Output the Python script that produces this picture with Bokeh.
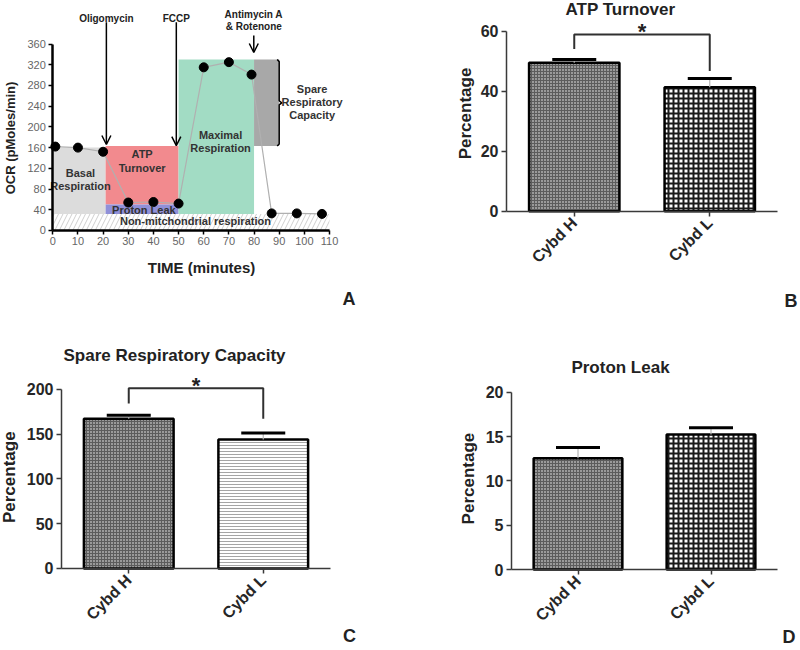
import math
from bokeh.plotting import figure
from bokeh.layouts import column, row
from bokeh.models import (Range1d, FixedTicker, Label, Arrow, OpenHead, Whisker,
                          TeeHead, ColumnDataSource)
from bokeh.core.properties import value
from bokeh.embed import file_html
from bokeh.resources import INLINE

FONT = "Liberation Sans"

# ---------------- Panel A data ----------------
time_min = [1, 10, 20, 30, 40, 50, 60, 70, 79, 87, 97, 107]
ocr = [162, 160, 152, 54, 55, 52, 315, 325, 301, 33, 33, 32]
region_names = ["Basal\nRespiration", "ATP\nTurnover", "Proton Leak",
                "Maximal\nRespiration", "Spare\nRespiratory\nCapacity"]
region_start = [0, 21, 21, 50, 80]
region_end = [21, 50, 50, 80, 90]
region_low = [32, 50, 32, 32, 163]
region_high = [160, 163, 50, 330, 330]
nonmito_level = 32
nonmito_name = "Non-mitchondrial respiration"
injections = ["Oligomycin", "FCCP", "Antimycin A\n& Rotenone"]
injection_time = [21.3, 49.1, 79.9]
a_y_ticks = [0, 40, 80, 120, 160, 200, 240, 280, 320, 360]
a_x_ticks = [0, 10, 20, 30, 40, 50, 60, 70, 80, 90, 100, 110]

# ---------------- Bar panels data ----------------
groups = ["Cybd H", "Cybd L"]
atp_pct = [49.5, 41.3]
atp_sem = [1.1, 2.9]
atp_ticks = [0, 20, 40, 60]
atp_sig = [58.9, 54.1, 46.7]      # bracket top, left end, right end
spare_pct = [167, 144]
spare_sem = [4, 7]
spare_ticks = [0, 50, 100, 150, 200]
spare_sig = [201, 184, 167]
leak_pct = [12.55, 15.23]
leak_sem = [1.2, 0.75]
leak_ticks = [0, 5, 10, 15, 20]

# ---------------- styles ----------------
region_colors = ["#dcdcdc", "#f28a8e", "#9090d8", "#a2dcc4", "#a8a8a8"]
region_label_x = [11, 35.5, 36.2, 66.7, 103.1]
region_label_y = [98, 134, 40, 171.5, 247.6]
BAR_STYLES = {
    "fine": dict(fill_color="#9a9a9a", hatch_pattern="cross", hatch_scale=3,
                 hatch_weight=1, hatch_color="#5c5c5c"),
    "checker": dict(fill_color="white", hatch_pattern="cross", hatch_scale=5,
                    hatch_weight=2, hatch_color="#1a1a1a"),
    "lines": dict(fill_color="white", hatch_pattern="horizontal_line", hatch_scale=3,
                  hatch_weight=1, hatch_color="#a5a5a5"),
}


def base_fig(w, h, xr, yr):
    p = figure(width=w, height=h, x_range=xr, y_range=yr,
               min_border_left=0, min_border_right=0, min_border_top=0, min_border_bottom=0,
               output_backend="svg", toolbar_location=None)
    p.xgrid.visible = False
    p.ygrid.visible = False
    p.outline_line_color = None
    p.xaxis.fixed_location = 0
    p.yaxis.fixed_location = 0
    return p


def style_axis(ax, ticks, bounds, size, color, bold, lw, lc, tick_out):
    ax.ticker = FixedTicker(ticks=ticks)
    ax.bounds = bounds
    ax.axis_line_width = lw
    ax.axis_line_color = lc
    ax.major_tick_line_color = lc
    ax.major_tick_line_width = 1.5
    ax.major_tick_out = tick_out
    ax.major_tick_in = 0
    ax.minor_tick_out = 0
    ax.minor_tick_in = 0
    ax.major_label_text_font = FONT
    ax.major_label_text_font_size = size
    ax.major_label_text_font_style = "bold" if bold else "normal"
    ax.major_label_text_color = color
    ax.major_label_standoff = 3


def label(p, x, y, text, size, angle=0, align="center", baseline="middle", color="#222222"):
    p.add_layout(Label(x=x, y=y, text=text, angle=angle, text_font=FONT,
                       text_font_size=size, text_font_style="bold", text_color=color,
                       text_align=align, text_baseline=baseline))


# ---------------- Panel A ----------------
pA = base_fig(400, 320, Range1d(-20.79, 138.22), Range1d(-173.75, 444.0))
pA.quad(left=region_start, right=region_end, bottom=region_low, top=region_high,
        fill_color=region_colors, line_color=None)
pA.quad(left=[a_x_ticks[0]], right=[a_x_ticks[-1]], bottom=[0], top=[nonmito_level],
        fill_color="white", hatch_pattern="right_diagonal_line", hatch_color="#cfcfcf",
        hatch_scale=9, hatch_weight=1, line_color=None)
pA.line(time_min, ocr, line_color="#b0b0b0", line_width=1.2)
pA.scatter(time_min, ocr, size=9, fill_color="black", line_color="black")
pA.text(x=region_label_x, y=region_label_y, text=region_names, text_font=value(FONT),
        text_font_size="11px", text_font_style="bold", text_color="#333333",
        text_align="center", text_baseline="middle", text_line_height=1.1)
pA.text(x=[(a_x_ticks[0] + a_x_ticks[-1]) / 2 + 1.7], y=[nonmito_level / 2 + 1.4],
        text=[nonmito_name], text_font=value(FONT), text_font_size="11px",
        text_font_style="bold", text_color="#333333", text_align="center",
        text_baseline="middle")
# brace for spare capacity
bx = region_end[4]
btop, bbot = region_high[4], region_low[4]
bmid = (btop + bbot) / 2
pA.line([bx - 0.8, bx, bx, bx + 1.0, bx, bx, bx - 0.8],
        [btop, btop - 4, bmid + 4, bmid, bmid - 4, bbot + 4, bbot],
        line_color="black", line_width=1.5)
# injections
arrow_start = [402, 402, 376.4]
arrow_end = [166, 164, 343.6]
for t, ys, ye in zip(injection_time, arrow_start, arrow_end):
    pA.add_layout(Arrow(x_start=t, y_start=ys, x_end=t, y_end=ye, line_width=1.5,
                        line_color="black",
                        end=OpenHead(size=9, line_width=1.5, line_color="black")))
pA.text(x=injection_time, y=[408.7, 408.7, 406], text=injections, text_font=value(FONT),
        text_font_size="10px", text_font_style="bold", text_color="#222222",
        text_align="center", text_baseline="middle", text_line_height=1.07)
style_axis(pA.yaxis[0], a_y_ticks, (0, 360), "11px", "#666666", False, 2.5, "black", 4)
style_axis(pA.xaxis[0], a_x_ticks, (0, 110), "11px", "#666666", False, 2.5, "black", 4)
label(pA, -16.8, 178.6, "OCR (pMoles/min)", "13px", angle=math.pi / 2)
label(pA, 59.1, -70.8, "TIME (minutes)", "15px")
label(pA, 117.7, -131.3, "A", "18px", baseline="alphabetic")


# ---------------- bar panels ----------------
def bar_panel(w, h, xr, yr, ticks, means, sems, styles, title, title_xy,
              ylab_xy, letter, letter_xy, letter_align, sig=None):
    xs = [i + 0.5 for i in range(len(groups))]
    p = base_fig(w, h, Range1d(*xr), Range1d(*yr))
    for i, st in enumerate(styles):
        p.vbar(x=[xs[i]], top=[means[i]], bottom=0, width=0.667, line_color="black",
               line_width=2.5, **BAR_STYLES[st])
    src = ColumnDataSource(dict(x=xs, lo=means, hi=[m + e for m, e in zip(means, sems)]))
    p.add_layout(Whisker(source=src, base="x", lower="lo", upper="hi",
                         upper_head=TeeHead(size=44, line_width=3, line_color="black"),
                         lower_head=None, line_color="#b5b5b5", line_width=1.2,
                         level="overlay"))
    if sig:
        top, le, re = sig
        p.line(x=[xs[0], xs[0], xs[1], xs[1]], y=[le, top, top, re],
               line_color="#303030", line_width=2)
        p.text(x=[(xs[0] + xs[1]) / 2], y=[top], text=["*"], y_offset=-3,
               text_font=value(FONT), text_font_size="22px", text_font_style="bold",
               text_color="#222222", text_align="center", text_baseline="middle")
    style_axis(p.yaxis[0], ticks, (ticks[0], ticks[-1]), "16px", "#262626", True, 1.5,
               "#3a3a3a", 5)
    style_axis(p.xaxis[0], xs, (0, len(groups)), "16px", "#262626", True, 1.5,
               "#3a3a3a", 5)
    p.xaxis[0].major_label_overrides = {x: g for x, g in zip(xs, groups)}
    p.xaxis[0].major_label_orientation = math.pi / 4
    p.xaxis[0].major_label_standoff = 4
    label(p, title_xy[0], title_xy[1], title, "17px")
    label(p, ylab_xy[0], ylab_xy[1], "Percentage", "17px", angle=math.pi / 2)
    label(p, letter_xy[0], letter_xy[1], letter, "18px", align=letter_align,
          baseline="alphabetic")
    return p


pB = bar_panel(400, 320, (-0.7823, 2.1697), (-36.43, 70.23), atp_ticks, atp_pct, atp_sem,
               ["fine", "checker"], "ATP Turnover", (0.841, 67.13),
               (-0.3026, 32.57), "B", (2.148, -29.77), "right", sig=atp_sig)
pC = bar_panel(400, 330, (-0.4535, 2.5204), (-91.47, 276.6), spare_ticks, spare_pct,
               spare_sem, ["fine", "lines"], "Spare Respiratory Capacity", (0.840, 237.6),
               (-0.3866, 101.8), "C", (2.141, -75.8), "center", sig=spare_sig)
pD = bar_panel(400, 330, (-0.8346, 2.1729), (-9.137, 28.09), leak_ticks, leak_pct, leak_sem,
               ["fine", "checker"], "Proton Leak", (0.8195, 22.79),
               (-0.3233, 10.26), "D", (2.135, -7.56), "right")

layout = column(row(pA, pB), row(pC, pD))
open("out.html", "w").write(file_html(layout, INLINE))
